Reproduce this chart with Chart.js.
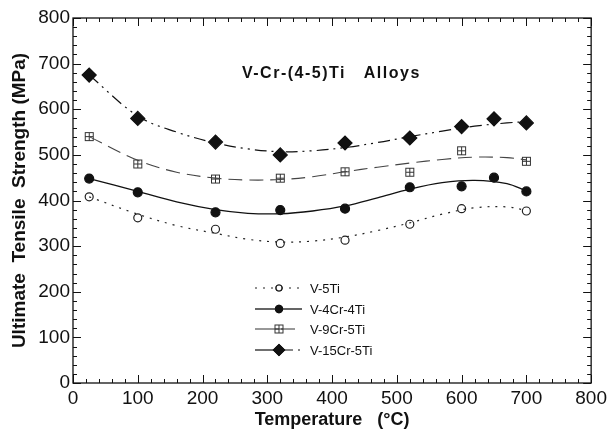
<!DOCTYPE html>
<html>
<head>
<meta charset="utf-8">
<script src="https://cdn.jsdelivr.net/npm/chart.js@4/dist/chart.umd.min.js"></script>
<style>
  html, body { margin: 0; background: #fff; }
  #wrap { width: 611px; height: 431px; }
</style>
</head>
<body>
<div id="wrap"><canvas id="chart"></canvas></div>
<script>
// measured points (temperature in °C, strength in MPa)
const alloys = ['V-5Ti', 'V-4Cr-4Ti', 'V-9Cr-5Ti', 'V-15Cr-5Ti'];
const tempA = [25, 100, 220, 320, 420, 520, 600, 700];
const tempB = [25, 100, 220, 320, 420, 520, 600, 650, 700];
const v5Ti    = [408, 362, 337, 306, 313, 348, 382, 377];
const v4Cr4Ti = [448, 418, 374, 379, 382, 429, 431, 450, 420];
const v9Cr5Ti = [540, 480, 447, 449, 463, 462, 509, 486];
const v15Cr5Ti = [675, 580, 528, 500, 526, 537, 562, 579, 570];

// fitted curves
const fitTemp  = [25, 100, 160, 220, 270, 320, 370, 420, 470, 520, 570, 620, 670, 700];
const fit5Ti   = [408, 370, 345, 328, 315, 309, 311, 320, 334, 351, 370, 384, 386, 378];
const fit4Cr   = [448, 420, 397, 380, 372, 371, 377, 388, 406, 425, 439, 444, 437, 421];
const fit9Cr   = [540, 488, 462, 449, 445, 446, 452, 463, 473, 482, 490, 495, 494, 489];
const fit15Cr  = [675, 585, 550, 526, 513, 507, 509, 516, 527, 540, 552, 563, 570, 573];

const xTicks = [0, 100, 200, 300, 400, 500, 600, 700, 800];
const yTicks = [0, 100, 200, 300, 400, 500, 600, 700, 800];

const ink = '#111';
const FONT = '"Liberation Sans", Arial, sans-serif';
const pts = (xs, ys) => xs.map((x, i) => ({ x, y: ys[i] }));

// square with a cross inside
const boxCross = (() => {
  const c = document.createElement('canvas');
  c.width = 11; c.height = 11;
  const g = c.getContext('2d');
  g.strokeStyle = '#333';
  g.lineWidth = 1;
  g.strokeRect(1.5, 1.5, 8, 8);
  g.beginPath();
  g.moveTo(5.5, 1.5); g.lineTo(5.5, 9.5);
  g.moveTo(1.5, 5.5); g.lineTo(9.5, 5.5);
  g.stroke();
  return c;
})();

const styles = [
  { dash: [2, 6], width: 1.2, color: '#222', point: 'circle', radius: 4, legendR: 3, fill: '#fff', left: [2, 6] },
  { dash: [], width: 1.3, color: ink, point: 'circle', radius: 4.5, legendR: 3.5, fill: ink, left: [] },
  { dash: [14, 7], width: 1.1, color: '#444', point: boxCross, radius: 5, legendR: 5, fill: '#fff', left: [] },
  { dash: [12, 5, 2, 5, 2, 5], width: 1.2, color: ink, point: 'rectRot', radius: 7, legendR: 5.5, fill: ink, left: [] }
];
const fits = [fit5Ti, fit4Cr, fit9Cr, fit15Cr];
const measured = [[tempA, v5Ti], [tempB, v4Cr4Ti], [tempA, v9Cr5Ti], [tempB, v15Cr5Ti]];

const datasets = [];
alloys.forEach((name, i) => {
  const s = styles[i];
  datasets.push({
    label: name + ' fit',
    data: pts(fitTemp, fits[i]),
    showLine: true,
    borderColor: s.color,
    borderWidth: s.width,
    borderDash: s.dash,
    tension: 0.35,
    pointRadius: 0
  });
  datasets.push({
    label: name,
    data: pts(measured[i][0], measured[i][1]),
    showLine: false,
    pointStyle: s.point,
    pointRadius: s.radius,
    pointBackgroundColor: s.fill,
    pointBorderColor: s.color,
    pointBorderWidth: 1.2
  });
});

// frame with inward ticks on all four sides, inner title and legend
const frame = {
  id: 'frame',
  afterDraw(chart) {
    const { ctx, chartArea: a, scales } = chart;
    ctx.save();
    ctx.strokeStyle = ink;
    ctx.lineWidth = 1.3;
    ctx.setLineDash([]);
    ctx.strokeRect(a.left, a.top, a.right - a.left, a.bottom - a.top);
    ctx.lineWidth = 1;
    ctx.beginPath();
    for (let v = 0; v <= 800; v += 20) {
      const len = v % 100 === 0 ? 8 : 4;
      const x = Math.round(scales.x.getPixelForValue(v)) + 0.5;
      ctx.moveTo(x, a.bottom); ctx.lineTo(x, a.bottom - len);
      ctx.moveTo(x, a.top); ctx.lineTo(x, a.top + len);
      const y = Math.round(scales.y.getPixelForValue(v)) + 0.5;
      ctx.moveTo(a.left, y); ctx.lineTo(a.left + len, y);
      ctx.moveTo(a.right, y); ctx.lineTo(a.right - len, y);
    }
    ctx.stroke();

    ctx.fillStyle = ink;
    ctx.font = 'bold 16px ' + FONT;
    ctx.letterSpacing = '1.5px';
    ctx.textAlign = 'left';
    ctx.textBaseline = 'middle';
    ctx.fillText('V-Cr-(4-5)Ti   Alloys', 242, 74);
    ctx.letterSpacing = '0px';

    const rows = [288, 309, 329, 350];
    ctx.font = '13px ' + FONT;
    alloys.forEach((name, i) => {
      const s = styles[i];
      const y = rows[i];
      ctx.strokeStyle = s.color;
      ctx.lineWidth = s.width;
      ctx.setLineDash(s.left);
      ctx.beginPath();
      ctx.moveTo(255, y); ctx.lineTo(279, y);
      ctx.stroke();
      ctx.setLineDash(s.dash);
      ctx.beginPath();
      ctx.moveTo(281, y); ctx.lineTo(302, y);
      ctx.stroke();
      ctx.setLineDash([]);
      Chart.helpers.drawPoint(ctx, {
        pointStyle: s.point, radius: s.legendR, rotation: 0, borderWidth: 1.2
      }, 279, y);
      ctx.fillStyle = s.fill;
      ctx.strokeStyle = s.color;
      if (typeof s.point === 'string') { ctx.fill(); ctx.stroke(); }
      ctx.fillStyle = ink;
      ctx.fillText(name, 310, y + 1);
    });
    ctx.restore();
  }
};

new Chart(document.getElementById('chart'), {
  type: 'scatter',
  data: { datasets },
  plugins: [frame],
  options: {
    responsive: true,
    maintainAspectRatio: false,
    animation: false,
    layout: { padding: { top: 18, right: 13, left: 0, bottom: 0 } },
    plugins: { legend: { display: false }, tooltip: { enabled: false } },
    scales: {
      x: {
        type: 'linear', min: 0, max: 800,
        afterBuildTicks: s => { s.ticks = xTicks.map(v => ({ value: v })); },
        grid: { display: false, drawTicks: false },
        border: { display: false },
        ticks: { color: ink, padding: 4, font: { size: 19, family: FONT } },
        title: {
          display: true, text: 'Temperature   (°C)', color: ink,
          font: { size: 18, weight: 'bold', family: FONT },
          padding: { top: 2, bottom: 0 }
        },
        afterFit: s => { s.height = 48; }
      },
      y: {
        min: 0, max: 800,
        afterBuildTicks: s => { s.ticks = yTicks.map(v => ({ value: v })); },
        grid: { display: false, drawTicks: false },
        border: { display: false },
        ticks: { color: ink, padding: 3, font: { size: 19, family: FONT } },
        title: {
          display: true, text: 'Ultimate  Tensile  Strength (MPa)', color: ink,
          font: { size: 19, weight: 'bold', family: FONT },
          padding: { top: 8, bottom: 0 }
        },
        afterFit: s => { s.width = 73; }
      }
    }
  }
});
</script>
</body>
</html>
